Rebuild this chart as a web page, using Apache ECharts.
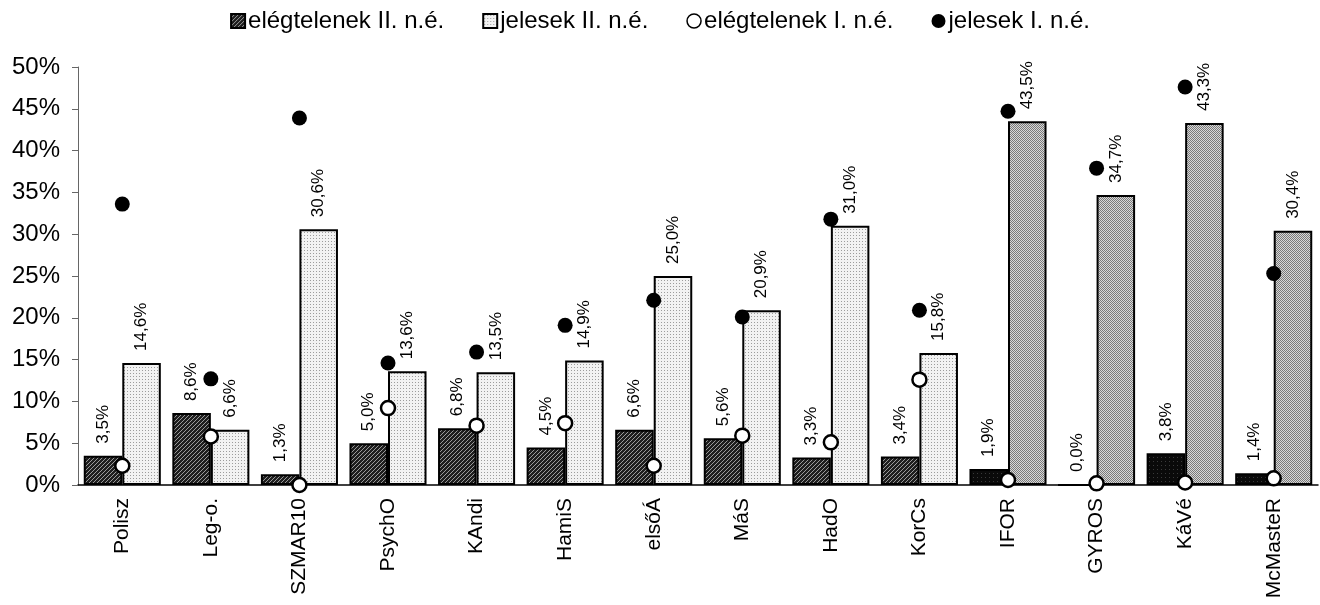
<!DOCTYPE html>
<html>
<head>
<meta charset="utf-8">
<script src="https://cdn.jsdelivr.net/npm/echarts@6/dist/echarts.min.js"></script>
<style>
  html, body { margin: 0; padding: 0; background: #fff; }
  #chart { width: 1320px; height: 605px; }
</style>
</head>
<body>
<div id="chart"></div>
<script>
// kategóriák
const categories = ['Polisz', 'Leg-o.', 'SZMAR10', 'PsychO', 'KAndi', 'HamiS', 'elsőÁ', 'MáS', 'HadO', 'KorCs', 'IFOR', 'GYROS', 'KáVé', 'McMasteR'];
// oszlopok (II. n.é.)
const elegtelenII = [3.5, 8.6, 1.3, 5.0, 6.8, 4.5, 6.6, 5.6, 3.3, 3.4, 1.9, 0.0, 3.8, 1.4];
const jelesII = [14.6, 6.6, 30.6, 13.6, 13.5, 14.9, 25.0, 20.9, 31.0, 15.8, 43.5, 34.7, 43.3, 30.4];
// pontok (I. n.é.)
const elegtelenI = [2.3, 5.8, 0.0, 9.2, 7.1, 7.4, 2.3, 5.9, 5.1, 12.6, 0.6, 0.2, 0.3, 0.8];
const jelesI = [33.6, 12.7, 43.9, 14.6, 15.9, 19.1, 22.1, 20.1, 31.8, 20.9, 44.7, 37.9, 47.6, 25.3];
// az utolsó négy oszlop sötétebb mintázatú
const darkFrom = 10;

// mintázatok canvas-ból
function pattern(size, bg, draw) {
  const c = document.createElement('canvas');
  c.width = size; c.height = size;
  const ctx = c.getContext('2d');
  ctx.fillStyle = bg;
  ctx.fillRect(0, 0, size, size);
  draw(ctx);
  return { image: c, repeat: 'repeat' };
}
const hatch = pattern(4, '#1e1e1e', ctx => {
  ctx.fillStyle = '#9a9a9a';
  ctx.fillRect(3, 0, 1, 1); ctx.fillRect(2, 1, 1, 1);
  ctx.fillRect(1, 2, 1, 1); ctx.fillRect(0, 3, 1, 1);
});
const hatchDark = pattern(4, '#0a0a0a', ctx => {
  ctx.fillStyle = '#3a3a3a';
  ctx.fillRect(1, 1, 1, 1);
});
const dots = pattern(3, '#f2f2f2', ctx => {
  ctx.fillStyle = '#9c9c9c';
  ctx.fillRect(1, 1, 1, 1);
});
const dotsDark = pattern(2, '#d8d8d8', ctx => {
  ctx.fillStyle = '#7a7a7a';
  ctx.fillRect(0, 0, 1, 1); ctx.fillRect(1, 1, 1, 1);
});

const fmt = p => p.value.toFixed(1).replace('.', ',') + '%';
const barLabel = {
  show: true,
  position: 'top',
  distance: 12,
  rotate: 90,
  align: 'left',
  verticalAlign: 'middle',
  fontFamily: 'Liberation Sans, Arial',
  fontSize: 17,
  color: '#000',
  formatter: fmt
};

let chart = echarts.init(document.getElementById('chart'));
let option = {
  animation: false,
  textStyle: { fontFamily: 'Liberation Sans, Arial' },
  legend: {
    top: 4,
    left: 'center',
    itemGap: 38,
    itemWidth: 14,
    itemHeight: 14,
    textStyle: { fontSize: 24, color: '#000', padding: [0, 0, 0, -2] },
    data: [
      { name: 'elégtelenek II. n.é.', icon: 'rect' },
      { name: 'jelesek II. n.é.', icon: 'rect' },
      { name: 'elégtelenek I. n.é.', icon: 'circle', itemStyle: { borderWidth: 1.5 } },
      { name: 'jelesek I. n.é.', icon: 'circle' }
    ]
  },
  grid: { left: 78, right: 2, top: 67, bottom: 120 },
  xAxis: [{
    type: 'category',
    data: categories,
    axisLine: { lineStyle: { color: '#000', width: 1.5 } },
    axisTick: { length: 6, lineStyle: { color: '#000' } },
    axisLabel: {
      rotate: 90,
      fontSize: 21,
      color: '#000',
      margin: 13
    }
  }, {
    type: 'category',
    data: categories,
    position: 'bottom',
    axisLine: { show: false },
    axisTick: { alignWithLabel: true, length: 6, lineStyle: { color: '#000' } },
    axisLabel: { show: false }
  }],
  yAxis: {
    type: 'value',
    min: 0,
    max: 50,
    interval: 5,
    splitLine: { show: false },
    axisLine: { show: true, lineStyle: { color: '#666', width: 1 } },
    axisTick: { show: true, length: 6, lineStyle: { color: '#666' } },
    axisLabel: {
      fontSize: 24,
      color: '#000',
      margin: 18,
      formatter: '{value}%'
    }
  },
  series: [{
    name: 'elégtelenek II. n.é.',
    type: 'bar',
    barGap: '0%',
    barCategoryGap: '13%',
    itemStyle: { color: hatch, borderColor: '#000', borderWidth: 2 },
    label: barLabel,
    data: elegtelenII.map((v, i) => i >= darkFrom ? { value: v, itemStyle: { color: hatchDark } } : v)
  }, {
    name: 'jelesek II. n.é.',
    type: 'bar',
    itemStyle: { color: dots, borderColor: '#000', borderWidth: 2 },
    label: barLabel,
    data: jelesII.map((v, i) => i >= darkFrom ? { value: v, itemStyle: { color: dotsDark } } : v)
  }, {
    name: 'elégtelenek I. n.é.',
    type: 'scatter',
    symbol: 'circle',
    symbolSize: 14,
    z: 5,
    itemStyle: { color: '#fff', borderColor: '#000', borderWidth: 2.5, opacity: 1 },
    data: elegtelenI
  }, {
    name: 'jelesek I. n.é.',
    type: 'scatter',
    symbol: 'circle',
    symbolSize: 15,
    z: 6,
    itemStyle: { color: '#000', opacity: 1 },
    data: jelesI
  }]
};
chart.setOption(option);

window.onresize = () => {
  chart.resize();
};
</script>
</body>
</html>
